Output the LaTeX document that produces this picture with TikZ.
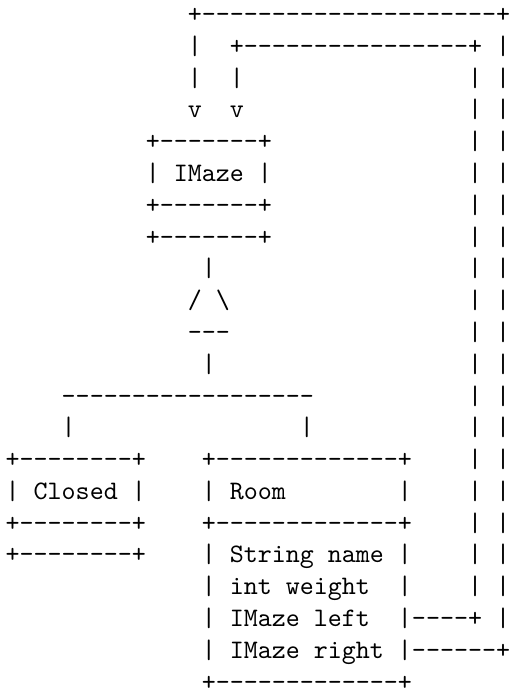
\documentclass[tikz,border=0pt]{standalone}
\usepackage{fontspec}
\setmonofont{lmmono10-regular.otf}
\tikzset{ascii/.style={anchor=base west, inner sep=0pt, outer sep=0pt, text=black,
  font=\ttfamily\fontsize{10pt}{12pt}\selectfont}}
\newcommand\arow[4]{\node[ascii] (#1) at ({#2+0.4067},{#3-0.2888}) {#4};}
\begin{document}
\begin{tikzpicture}[x=5.25pt,y=-11.91pt]
\fill[white] (0,0) rectangle (36.402,21.741);
\useasboundingbox (0,0) rectangle (36.402,21.741);
\arow{r1}{13}{1}{+---------------------+}
\arow{r2}{13}{2}{|~~+----------------+~|}
\arow{r3}{13}{3}{|~~|}
\arow{r4}{13}{4}{v~~v}
\arow{r5}{10}{5}{+-------+}
\arow{r6}{10}{6}{|~IMaze~|}
\arow{r7}{10}{7}{+-------+}
\arow{r8}{10}{8}{+-------+}
\arow{r9}{14}{9}{|}
\arow{r10}{13}{10}{/~\textbackslash}
\arow{r11}{13}{11}{---}
\arow{r12}{14}{12}{|}
\arow{r13}{4}{13}{------------------}
\arow{r14a}{4}{14}{|}
\arow{r14b}{21}{14}{|}
\arow{r15a}{0}{15}{+--------+}
\arow{r15b}{14}{15}{+-------------+}
\arow{r16a}{0}{16}{|~Closed~|}
\arow{r16b}{14}{16}{|~Room~~~~~~~~|}
\arow{r17a}{0}{17}{+--------+}
\arow{r17b}{14}{17}{+-------------+}
\arow{r18a}{0}{18}{+--------+}
\arow{r18b}{14}{18}{|~String~name~|}
\arow{r19}{14}{19}{|~int~weight~~|}
\arow{r20}{14}{20}{|~IMaze~left~~|----+~|}
\arow{r21}{14}{21}{|~IMaze~right~|------+}
\arow{r22}{14}{22}{+-------------+}
\foreach \r in {3,...,19} {\arow{v\r}{33}{\r}{|~|}}
\end{tikzpicture}
\end{document}
